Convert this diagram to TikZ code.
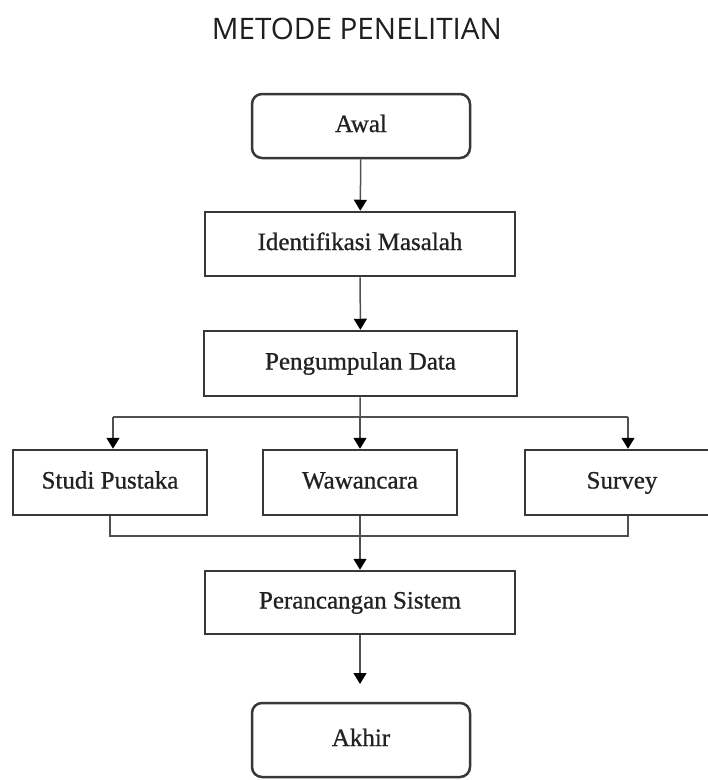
\documentclass[tikz,border=0pt]{standalone}
\usepackage{fontspec}
\setmainfont{Liberation Serif}[FakeBold=0.8]
\newfontfamily\titlefont{Open Sans}
\usetikzlibrary{arrows.meta}

\definecolor{boxline}{HTML}{383838}
\definecolor{wire}{HTML}{505050}
\definecolor{ink}{HTML}{222222}

\tikzset{
  stepbox/.style={draw=boxline, line width=2.5pt, fill=white, inner sep=0pt,
    text=ink, font=\fontsize{25}{30}\selectfont,
    text height=17pt, text depth=5pt},
  wide/.style={stepbox, minimum width=310pt, minimum height=64pt},
  branch/.style={stepbox, minimum width=194pt, minimum height=65pt},
  terminal/.style={stepbox, rounded corners=10pt, minimum width=218pt},
  wireline/.style={draw=wire, line width=1.5pt},
  flow/.style={wireline, -{Triangle[width=13pt,length=11pt,color=black]}},
}

\begin{document}
\begin{tikzpicture}[x=1pt, y=-1pt]
  \useasboundingbox[fill=white] (0,0) rectangle (708,780);
  \clip (0,0) rectangle (708,780);

  % heading
  \node[anchor=base, font=\titlefont\fontsize{29.6}{34}\selectfont, text=black!88]
    (title) at (357,39) {METODE PENELITIAN};

  % main column
  \node[terminal, minimum height=64pt] (awal)  at (361,126) {Awal};
  \node[wide] (ident) at (360,244) {Identifikasi Masalah};
  \node[wide, minimum width=313pt, minimum height=65pt] (kumpul) at (360.5,363.5) {Pengumpulan Data};

  % three data sources
  \node[branch] (studi)  at (110,482.5) {Studi Pustaka};
  \node[branch] (wawan)  at (360,482.5) {Wawancara};
  \node[branch] (survey) at (622,482.5) {Survey};

  \node[wide, minimum height=63pt] (rancang) at (360,602.5) {Perancangan Sistem};
  \node[terminal, minimum height=74pt] (akhir) at (361,740) {Akhir};

  % split and merge points
  \coordinate (split)  at (360,417);
  \coordinate (splitL) at (113,417);
  \coordinate (splitR) at (628,417);
  \coordinate (mergeL) at (110,536);
  \coordinate (mergeR) at (628,536);
  \coordinate (endtip) at (360,684);

  % connectors
  \draw[flow] (awal) -- (ident);
  \draw[flow] (ident) -- (kumpul);
  \draw[wireline] (kumpul) -- (split);
  \draw[wireline] (splitL) -- (splitR);
  \draw[flow] (splitL) -- (splitL |- studi.north);
  \draw[flow] (split) -- (wawan);
  \draw[flow] (splitR) -- (splitR |- survey.north);
  \draw[wireline] (mergeL |- studi.south) -- (mergeL) -- (mergeR) -- (mergeR |- survey.south);
  \draw[flow] (wawan) -- (rancang);
  \draw[flow] (rancang) -- (endtip);
\end{tikzpicture}
\end{document}
